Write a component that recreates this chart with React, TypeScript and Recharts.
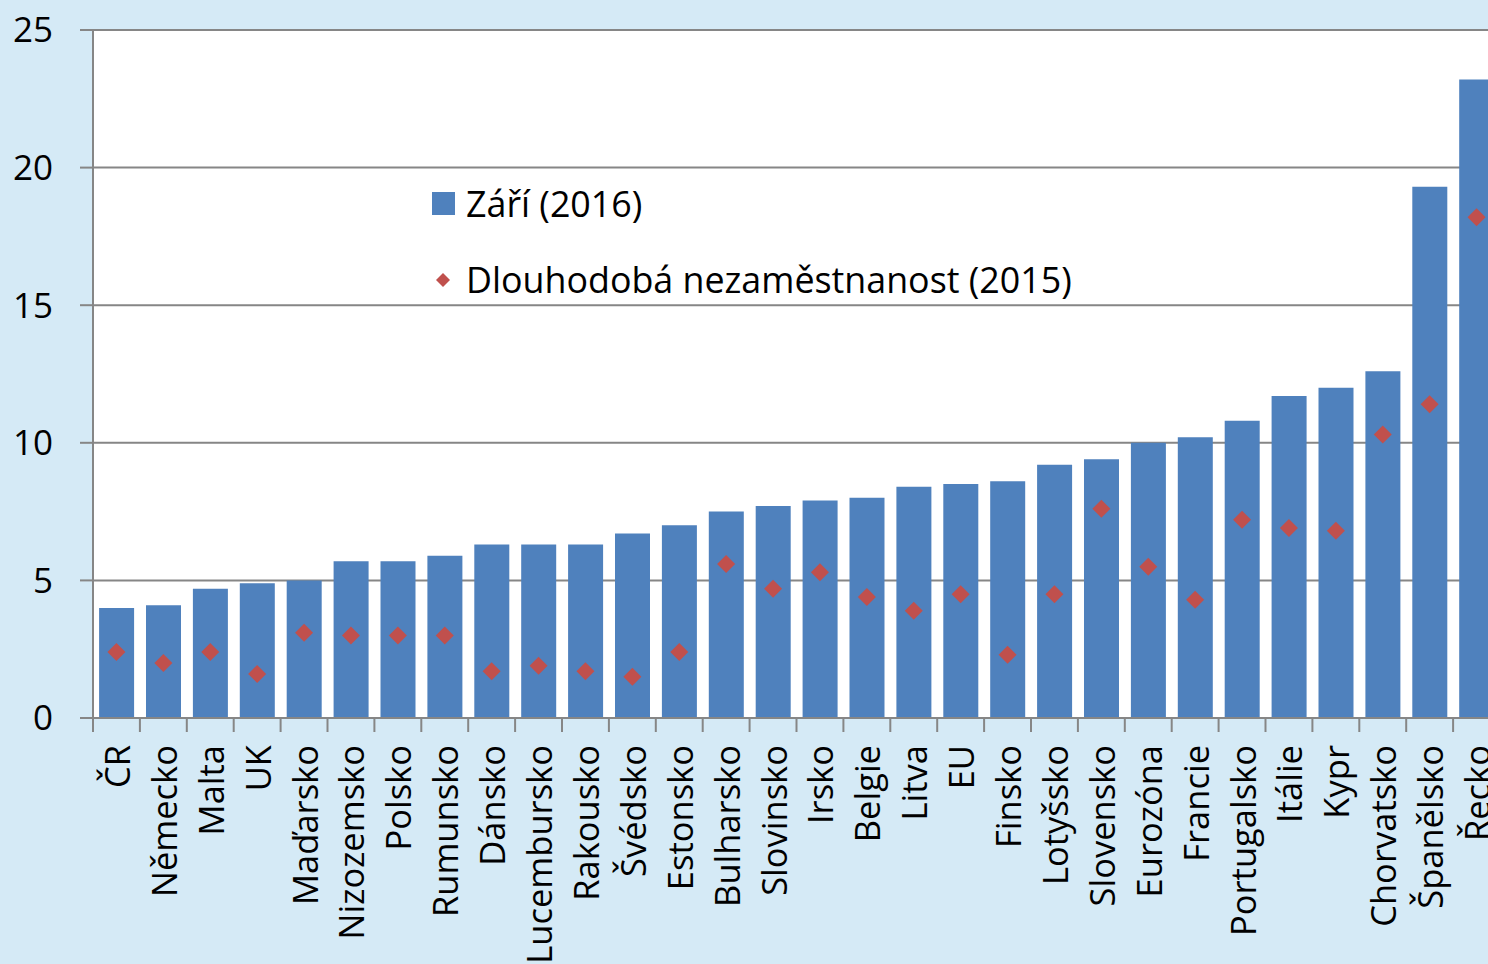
import { ComposedChart, Bar, Scatter, XAxis, YAxis, CartesianGrid, Legend } from "recharts";

const countries = [
  "ČR", "Německo", "Malta", "UK", "Maďarsko", "Nizozemsko", "Polsko", "Rumunsko",
  "Dánsko", "Lucembursko", "Rakousko", "Švédsko", "Estonsko", "Bulharsko", "Slovinsko",
  "Irsko", "Belgie", "Litva", "EU", "Finsko", "Lotyšsko", "Slovensko", "Eurozóna",
  "Francie", "Portugalsko", "Itálie", "Kypr", "Chorvatsko", "Španělsko", "Řecko",
];
// Září 2016
const sep2016 = [
  4.0, 4.1, 4.7, 4.9, 5.0, 5.7, 5.7, 5.9, 6.3, 6.3, 6.3, 6.7, 7.0, 7.5, 7.7,
  7.9, 8.0, 8.4, 8.5, 8.6, 9.2, 9.4, 10.0, 10.2, 10.8, 11.7, 12.0, 12.6, 19.3, 23.2,
];
// dlouhodobá nezaměstnanost 2015
const longTerm2015 = [
  2.4, 2.0, 2.4, 1.6, 3.1, 3.0, 3.0, 3.0, 1.7, 1.9, 1.7, 1.5, 2.4, 5.6, 4.7,
  5.3, 4.4, 3.9, 4.5, 2.3, 4.5, 7.6, 5.5, 4.3, 7.2, 6.9, 6.8, 10.3, 11.4, 18.2,
];
const yTicks = [0, 5, 10, 15, 20, 25];

const data = countries.map((c, i) => ({ country: c, sep: sep2016[i], lt: longTerm2015[i] }));

const BLUE = "#4F81BD";
const RED = "#C0504D";
const GRID = "#868686";
const BG = "#D5EAF6";

const W = 1520;
const H = 964;
const Y_W = 93;
const MARGIN = { top: 30, right: 20, left: 0, bottom: 0 };
const BAND = (W - MARGIN.right - MARGIN.left - Y_W) / countries.length;

function CountryTick({ x, y, payload }: any) {
  const bx = x - BAND / 2;
  return (
    <g>
      <line x1={bx} x2={bx} y1={y} y2={y + 14} stroke={GRID} strokeWidth={2} />
      <text
        transform={`translate(${x},${y + 27}) rotate(-90)`}
        textAnchor="end"
        dominantBaseline="central"
        fontSize={34.5}
        fill="#000"
      >
        {payload.value}
      </text>
    </g>
  );
}

function Diamond({ cx, cy }: any) {
  const r = 9;
  return <polygon points={`${cx},${cy - r} ${cx + r},${cy} ${cx},${cy + r} ${cx - r},${cy}`} fill={RED} />;
}

function LegendBox() {
  const txt = { position: "absolute" as const, left: 41, fontSize: 35.8, lineHeight: "40px", whiteSpace: "nowrap" as const, color: "#000" };
  return (
    <div style={{ position: "relative", width: 700, height: 130 }}>
      <div style={{ position: "absolute", left: 7, top: 12, width: 23, height: 23, background: BLUE }} />
      <div style={{ ...txt, top: 3 }}>Září (2016)</div>
      <svg style={{ position: "absolute", left: 11, top: 93 }} width={14} height={14}>
        <polygon points="7,0 14,7 7,14 0,7" fill={RED} />
      </svg>
      <div style={{ ...txt, top: 79 }}>Dlouhodobá nezaměstnanost (2015)</div>
    </div>
  );
}

export default function App() {
  return (
    <div
      style={{
        position: "fixed",
        left: 0,
        top: 0,
        width: 1488,
        height: 964,
        overflow: "hidden",
        background: BG,
        fontFamily: "'Open Sans', sans-serif",
      }}
    >
      <ComposedChart width={W} height={H} data={data} margin={MARGIN} barCategoryGap="13%">
        <CartesianGrid vertical={false} stroke={GRID} strokeWidth={2} fill="#fff" fillOpacity={1} />
        <XAxis
          dataKey="country"
          interval={0}
          height={H - 718}
          tickSize={0}
          tickMargin={0}
          tickLine={false}
          axisLine={{ stroke: GRID, strokeWidth: 2 }}
          tick={<CountryTick />}
        />
        <YAxis
          width={Y_W}
          domain={[0, 25]}
          ticks={yTicks}
          interval={0}
          tickSize={13}
          tickMargin={27}
          tickLine={{ stroke: GRID, strokeWidth: 2 }}
          axisLine={{ stroke: GRID, strokeWidth: 2 }}
          tick={{ fontSize: 35, fill: "#000" }}
        />
        <Legend
          layout="vertical"
          align="center"
          verticalAlign="middle"
          wrapperStyle={{ left: 425, top: 180, width: 700 }}
          content={<LegendBox />}
        />
        <Bar dataKey="sep" name="Září (2016)" fill={BLUE} isAnimationActive={false} />
        <Scatter dataKey="lt" name="Dlouhodobá nezaměstnanost (2015)" fill={RED} shape={<Diamond />} isAnimationActive={false} />
      </ComposedChart>
    </div>
  );
}
